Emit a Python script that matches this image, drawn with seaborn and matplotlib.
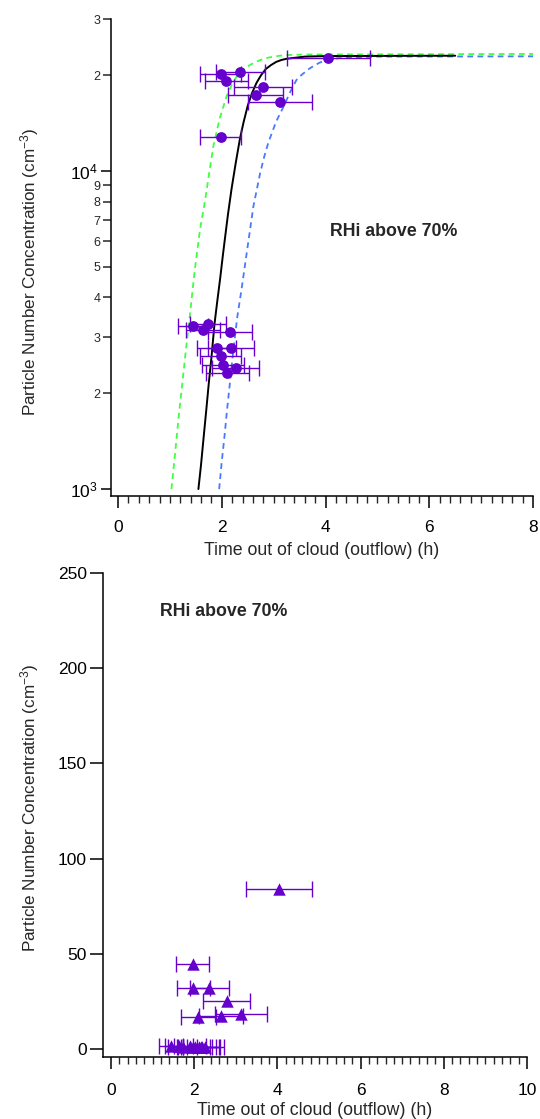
import numpy as np
import pandas as pd
import matplotlib
matplotlib.use("Agg")
import matplotlib.pyplot as plt
import seaborn as sns

sns.set_style("ticks")
plt.rcParams['font.family'] = ['Liberation Sans', 'DejaVu Sans']
plt.rcParams['mathtext.default'] = 'regular'

# --------------------------
# Data
# --------------------------
# upper panel: high concentration group
t_high = [1.98, 2.36, 2.09, 2.79, 2.66, 3.12, 1.98, 4.05]
n_high = [20200, 20400, 19200, 18300, 17300, 16400, 12800, 22600]
xerr_high = [0.40, 0.48, 0.41, 0.56, 0.53, 0.62, 0.39, 0.80]

# upper panel: low concentration group
t_low = [1.45, 1.73, 1.64, 2.16, 1.90, 2.18, 1.98, 2.02, 2.27, 2.11]
n_low = [3260, 3300, 3150, 3120, 2770, 2770, 2610, 2450, 2400, 2320]
xerr_low = [0.29, 0.35, 0.33, 0.43, 0.38, 0.44, 0.40, 0.40, 0.45, 0.42]

# fitted curves
fit_t = [1.55, 1.60, 1.65, 1.70, 1.75, 1.80, 1.86, 1.91, 1.97, 2.02, 2.06, 2.12, 2.19,
         2.27, 2.35, 2.42, 2.50, 2.58, 2.67, 2.76, 2.85, 2.95, 3.05, 3.15, 3.25,
         3.40, 3.60, 3.90, 4.20, 6.50]
fit_n = [1000, 1190, 1450, 1760, 2150, 2580, 3300, 3850, 4600, 5400, 6100, 7300, 8800,
         10600, 12600, 14200, 16000, 17500, 18900, 20000, 20900, 21500, 22000, 22300, 22500,
         22650, 22850, 22920, 22950, 23000]

lower_t = [1.03, 1.08, 1.13, 1.18, 1.24, 1.31, 1.39, 1.48, 1.58, 1.68, 1.76, 1.84, 1.96,
           2.09, 2.19, 2.29, 2.37, 2.45, 2.53, 2.61, 2.73, 2.85, 3.00, 3.12, 3.35, 3.60, 8.00]
lower_n = [1000, 1200, 1450, 1750, 2150, 2750, 3570, 4890, 6520, 8100, 9900, 12000, 14600,
           17100, 18600, 19800, 20500, 21000, 21450, 21800, 22250, 22600, 22850, 23000, 23150,
           23200, 23300]

upper_t = [1.95, 2.00, 2.05, 2.10, 2.15, 2.22, 2.30, 2.38, 2.49, 2.61, 2.74, 2.82, 2.90,
           3.05, 3.19, 3.32, 3.44, 3.52, 3.60, 3.68, 3.76, 3.88, 4.02, 4.20, 4.40, 5.00, 8.00]
upper_n = [1000, 1220, 1450, 1760, 2100, 2700, 3480, 4230, 5650, 7730, 9840, 11100, 12300,
           14300, 15900, 17700, 19300, 19900, 20400, 20900, 21300, 21850, 22300, 22550, 22700,
           22850, 22900]

# lower panel
t_lin = [4.04, 1.965, 1.98, 2.36, 2.78, 2.10, 2.64, 3.12,
         1.45, 1.73, 1.64, 2.16, 1.90, 2.18, 1.98, 2.02, 2.27, 2.11]
n_lin = [83.9, 44.6, 31.9, 31.9, 25.4, 17.0, 17.3, 18.4,
         1.5, 1.3, 1.4, 1.2, 1.4, 1.1, 1.3, 1.2, 1.1, 1.3]
xerr_lin = [0.80, 0.40, 0.40, 0.47, 0.56, 0.42, 0.53, 0.62,
            0.29, 0.35, 0.33, 0.43, 0.38, 0.44, 0.40, 0.40, 0.45, 0.42]

log_minor_labels = ['2', '3', '4', '5', '6', '7', '8', '9', '2', '3']

purple = '#6600cc'
green = '#40ff40'
blue = '#4a78ff'

# --------------------------
# Figure
# --------------------------
fig = plt.figure(figsize=(5.40, 11.19), dpi=100)
ax1 = fig.add_axes([111/540, 1 - 496/1119, (533 - 111)/540, (496 - 19)/1119])
ax2 = fig.add_axes([103/540, 1 - 1057/1119, (527 - 103)/540, (1057 - 573)/1119])

# ---- upper panel (log) ----
sns.lineplot(x=lower_t, y=lower_n, ax=ax1, color=green, lw=1.3, estimator=None,
             sort=False, linestyle=(0, (3.2, 2.4)))
sns.lineplot(x=upper_t, y=upper_n, ax=ax1, color=blue, lw=1.3, estimator=None,
             sort=False, linestyle=(0, (3.2, 2.4)))
sns.lineplot(x=fit_t, y=fit_n, ax=ax1, color='black', lw=1.4, estimator=None, sort=False)

t_all = t_high + t_low
n_all = n_high + n_low
e_all = xerr_high + xerr_low
ax1.errorbar(t_all, n_all, xerr=e_all, fmt='none', ecolor=purple, elinewidth=1.0,
             capsize=6, capthick=1.0, zorder=4)
sns.scatterplot(x=t_all, y=n_all, ax=ax1, color=purple, s=60, marker='o',
                edgecolor=purple, linewidth=0, zorder=5)

ax1.set_yscale('log')
ax1.set_xlim(-0.135, 8.0)
ax1.set_ylim(951, 30000)
ax1.set_xticks([0, 2, 4, 6, 8])
ax1.set_xticks(np.arange(0, 8.01, 0.2), minor=True)
ax1.set_yticks([1000, 10000], labels=['10$^{3}$', '10$^{4}$'])
minor_pos = [2000, 3000, 4000, 5000, 6000, 7000, 8000, 9000, 20000, 30000]
ax1.set_yticks(minor_pos, labels=log_minor_labels, minor=True)
ax1.tick_params(axis='y', which='minor', labelsize=9, length=5.5, width=1.1, pad=2)
ax1.tick_params(axis='y', which='major', labelsize=12.5, length=7.5, width=1.1, pad=2)
ax1.tick_params(axis='x', which='major', labelsize=12.5, length=8.5, width=1.1, pad=9)
ax1.tick_params(axis='x', which='minor', length=5, width=1.0)
ax1.text(4.09, 6430, 'RHi above 70%', fontsize=12.8, fontweight='bold', va='center', ha='left')
ax1.set_xlabel('Time out of cloud (outflow) (h)', fontsize=12.8, labelpad=5)
ax1.set_ylabel('Particle Number Concentration (cm$^{-3}$)', fontsize=12.3)
ax1.yaxis.set_label_coords(-0.166, 0.47)

# ---- lower panel (linear) ----
ax2.errorbar(t_lin, n_lin, xerr=xerr_lin, fmt='none', ecolor=purple, elinewidth=1.0,
             capsize=6, capthick=1.0, zorder=4)
sns.scatterplot(x=t_lin, y=n_lin, ax=ax2, color=purple, s=80, marker='^',
                edgecolor=purple, linewidth=0, zorder=5)
ax2.set_xlim(-0.19, 10)
ax2.set_ylim(-4.2, 250)
ax2.set_xticks([0, 2, 4, 6, 8, 10])
ax2.set_xticks(np.arange(0, 10.01, 0.2), minor=True)
ax2.set_yticks([0, 50, 100, 150, 200, 250])
ax2.tick_params(axis='y', which='major', labelsize=12.5, length=9.5, width=1.1, pad=2)
ax2.tick_params(axis='x', which='major', labelsize=12.5, length=8.5, width=1.1, pad=10)
ax2.tick_params(axis='x', which='minor', length=5, width=1.0)
ax2.text(1.18, 230, 'RHi above 70%', fontsize=12.8, fontweight='bold', va='center', ha='left')
ax2.set_xlabel('Time out of cloud (outflow) (h)', fontsize=12.8, labelpad=3)
ax2.set_ylabel('Particle Number Concentration (cm$^{-3}$)', fontsize=12.3)
ax2.yaxis.set_label_coords(-0.146, 0.514)

for ax in (ax1, ax2):
    sns.despine(ax=ax)
    for side in ('left', 'bottom'):
        ax.spines[side].set_linewidth(1.1)
        ax.spines[side].set_color('black')
    ax.tick_params(colors='black')

fig.savefig('out.png', dpi=100)
